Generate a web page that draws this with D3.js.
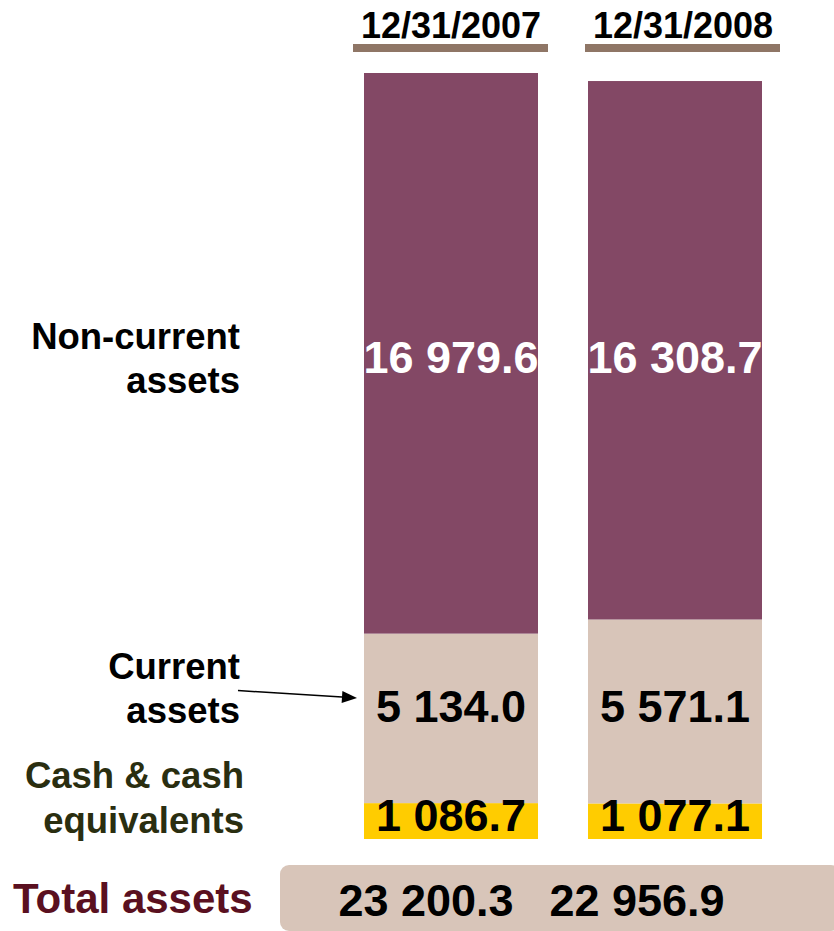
<!DOCTYPE html>
<html>
<head>
<meta charset="utf-8">
<script src="https://cdn.jsdelivr.net/npm/d3@7"></script>
<style>
  html, body { margin: 0; padding: 0; background: #fff; }
  svg { display: block; font-family: "Liberation Sans", Arial, sans-serif; font-weight: bold; }
</style>
</head>
<body>
<svg id="chart" width="834" height="931"></svg>
<script>
// ---- data ----
const dates = ["12/31/2007", "12/31/2008"];
const segments = ["Cash & cash equivalents", "Current assets", "Non-current assets"];
const cashValues = [1086.7, 1077.1];
const currentValues = [5134.0, 5571.1];
const nonCurrentValues = [16979.6, 16308.7];
const totalValues = [23200.3, 22956.9];
const cashLabels = ["1 086.7", "1 077.1"];
const currentLabels = ["5 134.0", "5 571.1"];
const nonCurrentLabels = ["16 979.6", "16 308.7"];
const totalLabels = ["23 200.3", "22 956.9"];
const rowLabels = [["Cash & cash", "equivalents"], ["Current", "assets"], ["Non-current", "assets"]];

// ---- layout ----
const svg = d3.select("#chart");
const colors = ["#ffcc00", "#d8c5b9", "#834865"];
const labelColors = ["#000000", "#000000", "#ffffff"];
const rowTextColors = ["#2a2e10", "#000000", "#000000"];

const x = d3.scaleBand().domain(dates).range([364, 762]).paddingInner(50 / 224).paddingOuter(0);
const y = d3.scaleLinear().domain([0, d3.max(totalValues)]).range([839, 73]);

const series = [cashValues, currentValues, nonCurrentValues];
const valueLabels = [cashLabels, currentLabels, nonCurrentLabels];
const stackData = dates.map((d, i) => {
  const o = { date: d };
  segments.forEach((s, k) => o[s] = series[k][i]);
  return o;
});
const stacked = d3.stack().keys(segments)(stackData);

// bars
stacked.forEach((layer, k) => {
  svg.append("g").selectAll("rect").data(layer).join("rect")
    .attr("x", (d, i) => x(dates[i]))
    .attr("width", x.bandwidth())
    .attr("y", d => y(d[1]))
    .attr("height", d => y(d[0]) - y(d[1]))
    .attr("fill", colors[k]);
});

// value labels inside bars (aligned per row, using first bar's segment)
const rowOffsets = [-8, 4, 20];
stacked.forEach((layer, k) => {
  const base = layer[0];
  const yy = (y(base[0]) + y(base[1])) / 2 + rowOffsets[k];
  svg.append("g").selectAll("text").data(layer).join("text")
    .attr("x", (d, i) => x(dates[i]) + x.bandwidth() / 2)
    .attr("y", k === 0 ? y(0) - 8 : yy)
    .attr("text-anchor", "middle")
    .attr("font-size", 45)
    .attr("fill", labelColors[k])
    .text((d, i) => valueLabels[k][i]);
});

// headers with underline
const hdr = svg.append("g");
const headerShift = [0, 8];
dates.forEach((d, i) => {
  const cx = x(d) + x.bandwidth() / 2 + headerShift[i];
  hdr.append("text").attr("x", cx).attr("y", 38).attr("text-anchor", "middle")
    .attr("font-size", 36).attr("fill", "#000").text(d);
  hdr.append("rect").attr("x", cx - 98).attr("width", 195)
    .attr("y", 44).attr("height", 8).attr("fill", "#8f7666");
});

// row labels on left
const rowBaselines = [[788, 833], [679, 723], [349, 393]];
rowLabels.forEach((lines, k) => {
  const t = svg.append("text").attr("text-anchor", "end").attr("font-size", 36.5)
    .attr("fill", rowTextColors[k]);
  lines.forEach((ln, j) => {
    t.append("tspan").attr("x", k === 0 ? 244 : 240).attr("y", rowBaselines[k][j]).text(ln);
  });
});

// arrow for current assets
const ax1 = 238, ay1 = 690.5, ax2 = x(dates[0]) - 7, ay2 = 698;
const ang = Math.atan2(ay2 - ay1, ax2 - ax1);
const hl = 15, hw = 6;
svg.append("line").attr("x1", ax1).attr("y1", ay1)
  .attr("x2", ax2 - hl * Math.cos(ang)).attr("y2", ay2 - hl * Math.sin(ang))
  .attr("stroke", "#000").attr("stroke-width", 1.5);
const bx = ax2 - hl * Math.cos(ang), by = ay2 - hl * Math.sin(ang);
svg.append("path")
  .attr("d", d3.line()([
    [ax2, ay2],
    [bx - hw * Math.sin(ang), by + hw * Math.cos(ang)],
    [bx + hw * Math.sin(ang), by - hw * Math.cos(ang)]
  ]) + "Z")
  .attr("fill", "#000");

// total row
svg.append("rect").attr("x", 280).attr("y", 865).attr("width", 560).attr("height", 66)
  .attr("rx", 9).attr("fill", "#d8c5b9");
svg.append("text").attr("x", 13).attr("y", 913).attr("font-size", 42)
  .attr("fill", "#5a1020").text("Total assets");
const totalShift = [-25, -38];
svg.append("g").selectAll("text").data(totalValues).join("text")
  .attr("x", (d, i) => x(dates[i]) + x.bandwidth() / 2 + totalShift[i])
  .attr("y", 916).attr("text-anchor", "middle").attr("font-size", 45)
  .attr("fill", "#000").text((d, i) => totalLabels[i]);
</script>
</body>
</html>
